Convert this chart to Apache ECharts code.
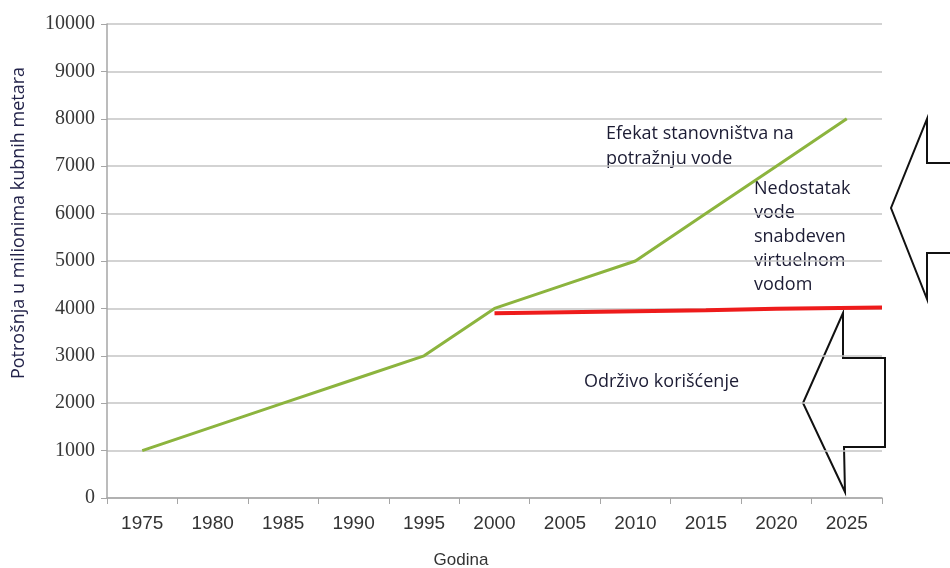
<!DOCTYPE html>
<html>
<head>
<meta charset="utf-8">
<script src="https://cdn.jsdelivr.net/npm/echarts@6/dist/echarts.min.js"></script>
<style>
  html, body { margin: 0; padding: 0; background: #fff; }
  #chart { width: 950px; height: 568px; }
</style>
</head>
<body>
<div id="chart"></div>
<script>
// Years on the category axis
const years = ['1975', '1980', '1985', '1990', '1995', '2000', '2005', '2010', '2015', '2020', '2025'];
// Water demand driven by population (million m³)
const demand = [1000, 1500, 2000, 2500, 3000, 4000, 4500, 5000, 6000, 7000, 8000];
// Sustainable use level, from 2000 to the right edge of the plot
const sustainableYears = [2000, 2005, 2010, 2015, 2020, 2027.5];
const sustainable = [3900, 3920, 3940, 3960, 3990, 4020];
// Value axis ticks
const yTicks = { min: 0, max: 10000, step: 1000 };

const chart = echarts.init(document.getElementById('chart'));

const txt = {
  fontFamily: '"Open Sans", "Noto Sans", sans-serif',
  fontSize: 18,
  fill: '#1c1c34'
};

chart.setOption({
  animation: false,
  backgroundColor: '#ffffff',
  grid: { left: 107, right: 68, top: 24, bottom: 70 },
  xAxis: [
    {
      type: 'category',
      data: years,
      boundaryGap: true,
      axisLine: { lineStyle: { color: '#a6a6a6', width: 1.5 } },
      axisTick: { show: true, length: 6, alignWithLabel: false, lineStyle: { color: '#a6a6a6' } },
      axisLabel: { color: '#333', fontSize: 19, margin: 16, fontFamily: '"Liberation Sans", Arial, sans-serif' },
      splitLine: { show: false }
    },
    {
      type: 'value',
      min: 1972.5,
      max: 2027.5,
      show: false
    }
  ],
  yAxis: {
    type: 'value',
    min: yTicks.min,
    max: yTicks.max,
    interval: yTicks.step,
    axisLine: { show: true, lineStyle: { color: '#a6a6a6', width: 1.5 } },
    axisTick: { show: true, length: 6, lineStyle: { color: '#a6a6a6' } },
    axisLabel: {
      color: '#383838', fontSize: 20, margin: 12,
      fontFamily: '"Liberation Serif", "DejaVu Serif", serif',
      formatter: v => String(v)
    },
    splitLine: { lineStyle: { color: '#c4c4c4', width: 1.5 } }
  },
  series: [
    {
      type: 'line',
      xAxisIndex: 0,
      data: demand,
      symbol: 'none',
      lineStyle: { color: '#8cb43e', width: 3 }
    },
    {
      type: 'line',
      xAxisIndex: 1,
      data: sustainableYears.map((y, i) => [y, sustainable[i]]),
      symbol: 'none',
      lineStyle: { color: '#ee1b1b', width: 4 }
    }
  ],
  graphic: [
    // axis titles
    {
      type: 'text', x: 19, y: 223, rotation: Math.PI / 2,
      style: { text: 'Potrošnja u milionima kubnih metara', align: 'center', verticalAlign: 'middle',
               fontFamily: '"Open Sans", "Noto Sans", sans-serif', fontSize: 18, fill: '#23234a' }
    },
    {
      type: 'text', x: 461, y: 560,
      style: { text: 'Godina', align: 'center', verticalAlign: 'middle',
               fontFamily: '"Liberation Sans", Arial, sans-serif', fontSize: 17, fill: '#333' }
    },
    // annotations
    { type: 'text', left: 606, top: 121, style: Object.assign({ text: 'Efekat stanovništva na\npotražnju vode', lineHeight: 25 }, txt) },
    { type: 'text', left: 754, top: 177, style: Object.assign({ text: 'Nedostatak\nvode\nsnabdeven\nvirtuelnom\nvodom', lineHeight: 24 }, txt) },
    { type: 'text', left: 584, top: 373, style: Object.assign({ text: 'Održivo korišćenje' }, txt) },
    // upper block arrow (points left)
    {
      type: 'polyline',
      shape: { points: [[952, 163], [927, 163], [927, 119], [891, 208], [927, 299], [927, 253], [952, 253]] },
      style: { stroke: '#111', lineWidth: 2, fill: null }
    },
    // lower block arrow (points left)
    {
      type: 'polygon',
      shape: { points: [[843, 313], [843, 358], [885, 358], [885, 447], [844, 447], [845, 492], [803, 403]] },
      style: { stroke: '#111', lineWidth: 2, fill: 'rgba(255,255,255,0)' }
    }
  ]
});
</script>
</body>
</html>
